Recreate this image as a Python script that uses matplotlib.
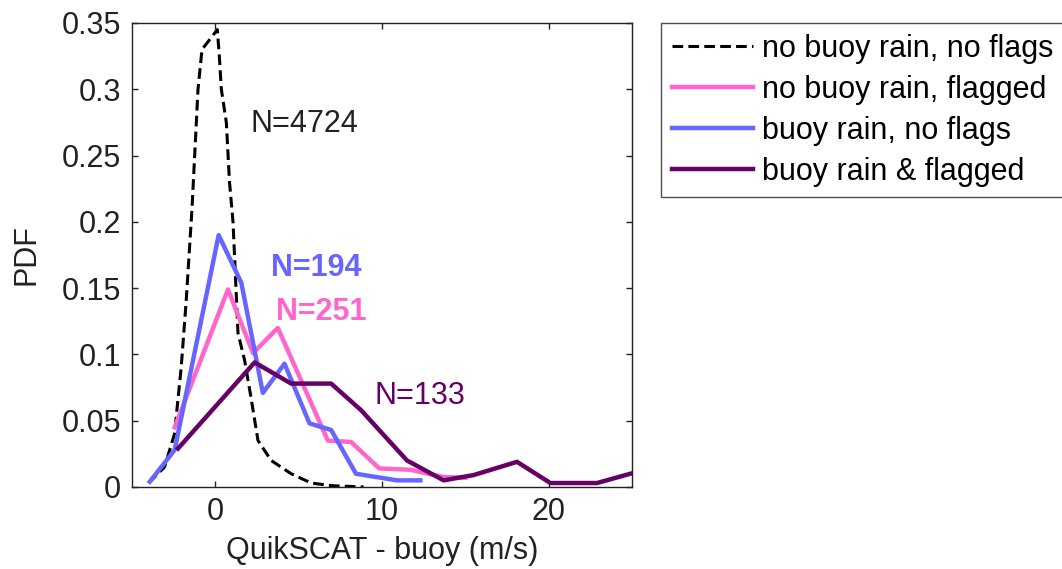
import matplotlib
matplotlib.use("Agg")
import matplotlib.pyplot as plt

plt.rcParams['font.family'] = ['Liberation Sans', 'DejaVu Sans']

# values
x_black = [-4.0, -3.05, -2.45, -2.05, -1.75, -1.4, -1.04, -0.8, 0.12, 0.25, 0.36, 0.66,
           0.85, 1.06, 1.36, 1.75, 2.16, 2.56, 3.35, 4.55, 5.75, 7.0, 8.9]
y_black = [0.003, 0.015, 0.04, 0.09, 0.14, 0.21, 0.30, 0.33, 0.345, 0.323, 0.30, 0.275,
           0.23, 0.20, 0.116, 0.096, 0.066, 0.035, 0.02, 0.01, 0.003, 0.001, 0.0]

x_pink = [-2.44, 0.76, 2.26, 3.75, 6.75, 8.14, 9.84, 11.7, 13.7, 15.0]
y_pink = [0.045, 0.149, 0.101, 0.12, 0.035, 0.034, 0.014, 0.013, 0.0075, 0.007]

x_blue = [-3.93, -2.44, 0.2, 1.56, 2.85, 4.15, 5.65, 6.95, 8.44, 10.9, 12.3]
y_blue = [0.004, 0.028, 0.19, 0.154, 0.071, 0.093, 0.048, 0.043, 0.01, 0.005, 0.005]

x_purple = [-2.24, 2.36, 4.55, 6.95, 8.74, 11.5, 13.7, 15.5, 18.1, 20.1, 22.9, 24.9]
y_purple = [0.029, 0.094, 0.078, 0.078, 0.058, 0.02, 0.005, 0.009, 0.019, 0.003, 0.003, 0.01]

labels = ["no buoy rain, no flags", "no buoy rain, flagged",
          "buoy rain, no flags", "buoy rain & flagged"]
counts = ["N=4724", "N=251", "N=194", "N=133"]

pink = "#ff66cc"
blue = "#6666ff"
purple = "#660066"

fig = plt.figure(figsize=(10.62, 5.69), dpi=100)
ax = fig.add_axes([132/1062, 1-487/569, 500/1062, 464/569])

ax.plot(x_black, y_black, color="k", lw=2.2, ls=(0, (3.5, 1.7)), label=labels[0])
ax.plot(x_pink, y_pink, color=pink, lw=3.2, label=labels[1])
ax.plot(x_blue, y_blue, color=blue, lw=3.2, label=labels[2])
ax.plot(x_purple, y_purple, color=purple, lw=3.2, label=labels[3])

fs = 22
ax.text(2.11, 0.274, counts[0], fontsize=fs, color="#222222", va="center")
ax.text(3.35, 0.165, counts[2], fontsize=fs, color=blue, weight="bold", va="center")
ax.text(3.65, 0.132, counts[1], fontsize=fs, color=pink, weight="bold", va="center")
ax.text(9.54, 0.069, counts[3], fontsize=fs, color=purple, va="center")

ax.set_xlim(-5, 25)
ax.set_ylim(0, 0.35)
ax.set_xticks([0, 10, 20])
ax.set_yticks([0, 0.05, 0.1, 0.15, 0.2, 0.25, 0.3, 0.35])
ax.set_yticklabels(["0", "0.05", "0.1", "0.15", "0.2", "0.25", "0.3", "0.35"])
ax.tick_params(direction="in", length=4, width=1, top=True, right=True,
               labelsize=fs, colors="#222222", pad=7)
ax.tick_params(axis="y", pad=8)
for s in ax.spines.values():
    s.set_linewidth(1.0)
    s.set_color("#222222")

ax.set_xlabel("QuikSCAT - buoy (m/s)", fontsize=fs, color="#222222", labelpad=7)
ax.set_ylabel("PDF", fontsize=fs, color="#222222", labelpad=14)

leg = fig.legend(loc="upper left", bbox_to_anchor=(661/1062, 1-23/569),
                 bbox_transform=fig.transFigure, fontsize=fs, frameon=True,
                 fancybox=False, edgecolor="#222222", borderaxespad=0,
                 handlelength=2.65, handletextpad=0.3, labelspacing=0.36,
                 borderpad=0.35)
leg.get_frame().set_linewidth(1.0)

fig.savefig("out.png", dpi=100)
